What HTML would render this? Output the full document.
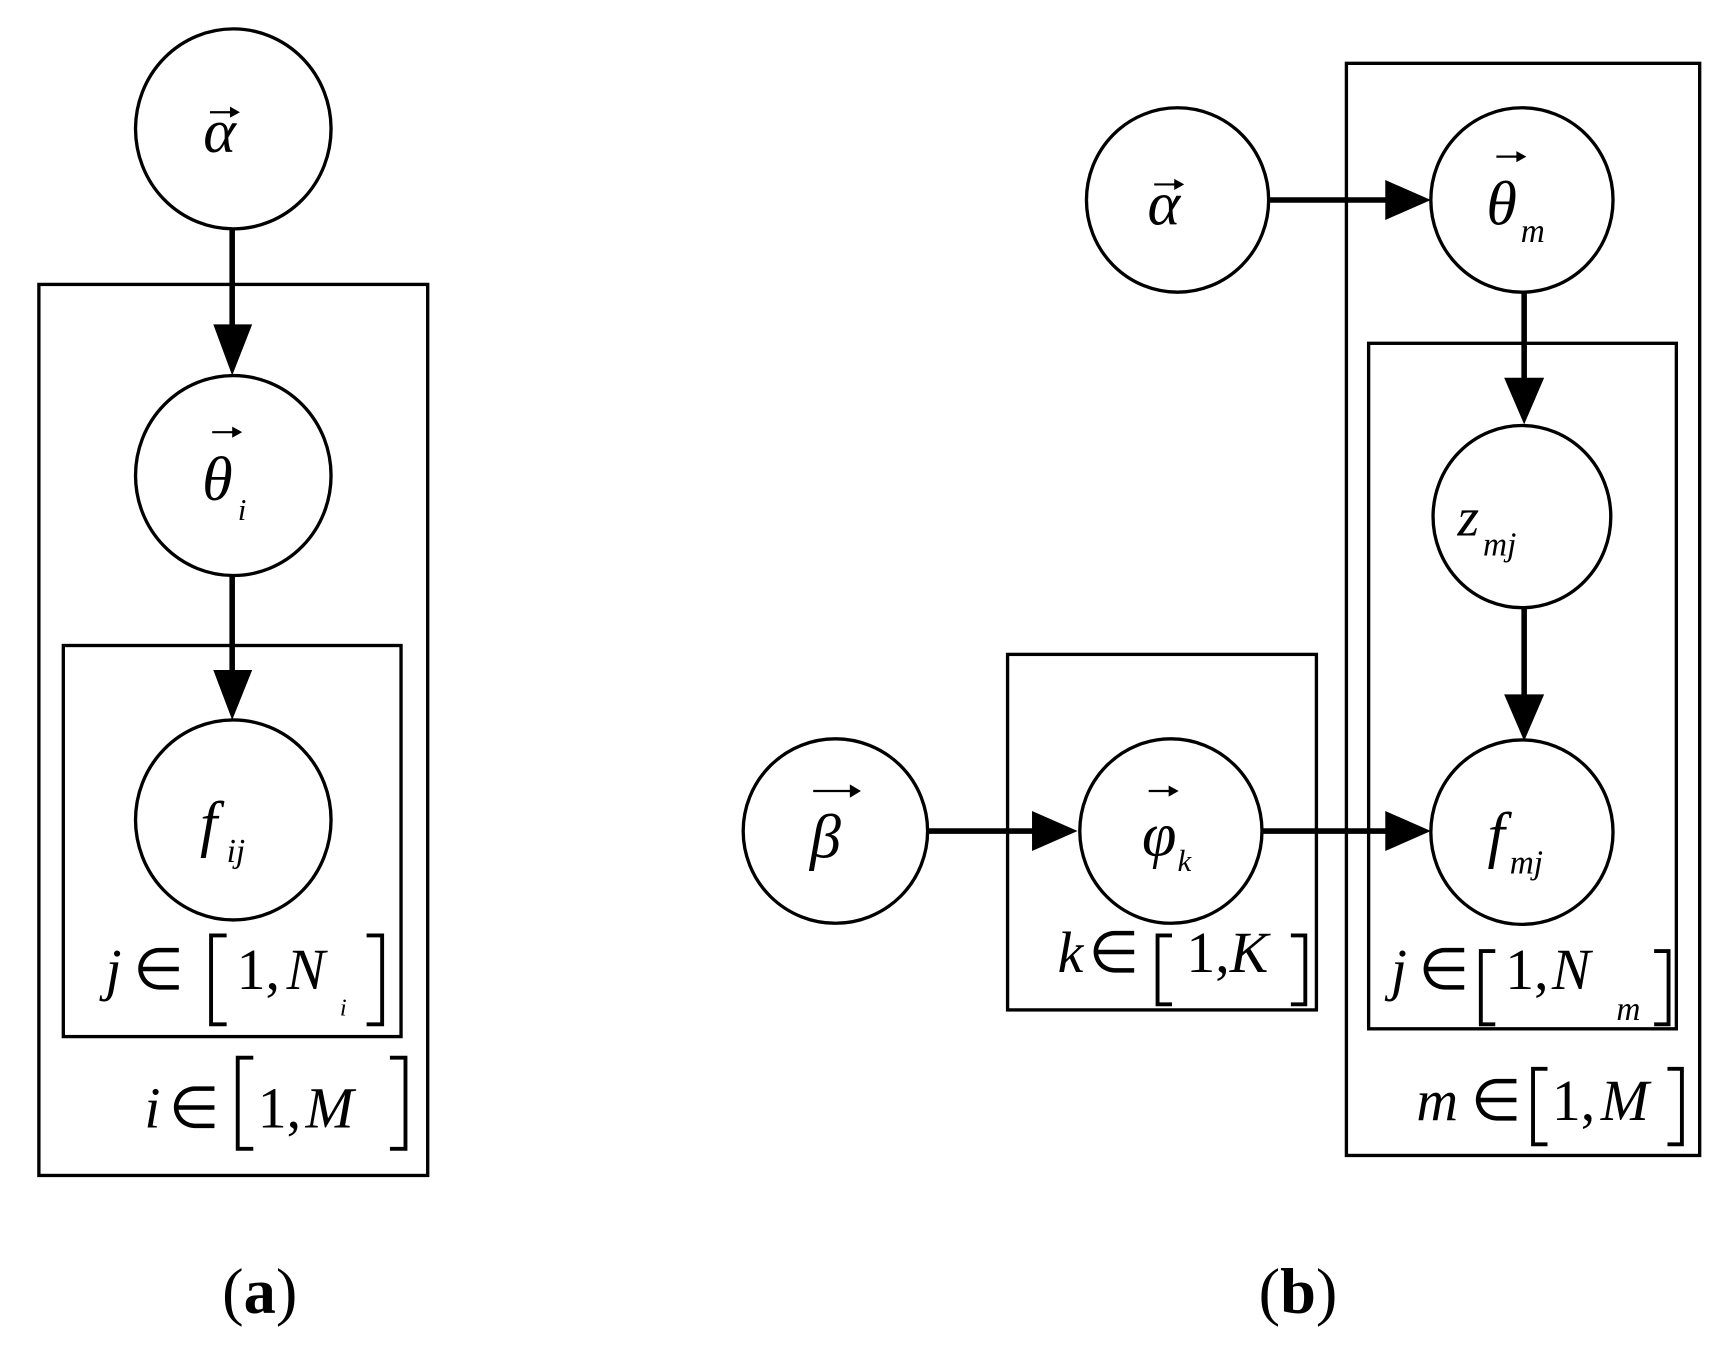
<!DOCTYPE html>
<html><head><meta charset="utf-8"><style>
html,body{margin:0;padding:0;background:#fff;}
svg{display:block;}
text{font-family:"Liberation Serif",serif;fill:#000;}
.it{font-style:italic;}
</style></head><body>
<svg width="1733" height="1351" viewBox="0 0 1560 1216" preserveAspectRatio="none" xmlns="http://www.w3.org/2000/svg">
<g fill="none" stroke="#000" stroke-width="3">
<rect x="35" y="256" width="350" height="802"/>
<rect x="57" y="581" width="304" height="352"/>
<ellipse cx="210" cy="116" rx="88" ry="90"/>
<ellipse cx="210" cy="428" rx="88" ry="90"/>
<ellipse cx="210" cy="738" rx="88" ry="90"/>
<rect x="1212" y="57" width="318" height="983"/>
<rect x="1232" y="309" width="277" height="617"/>
<rect x="907" y="589" width="278" height="320"/>
<ellipse cx="1060" cy="180" rx="82" ry="83"/>
<ellipse cx="1370" cy="180" rx="82" ry="83"/>
<ellipse cx="1370" cy="465" rx="80" ry="82"/>
<ellipse cx="1370" cy="749" rx="82" ry="83"/>
<ellipse cx="752" cy="748" rx="83" ry="83"/>
<ellipse cx="1054" cy="748" rx="82" ry="83"/>
</g>
<g stroke="#000" stroke-width="5" fill="none">
<line x1="209" y1="206" x2="209" y2="295"/>
<line x1="209" y1="518" x2="209" y2="605"/>
<line x1="1142" y1="180" x2="1249" y2="180"/>
<line x1="1372" y1="263" x2="1372" y2="342"/>
<line x1="1372" y1="548" x2="1372" y2="627"/>
<line x1="835" y1="748" x2="931" y2="748"/>
<line x1="1137" y1="748" x2="1249" y2="748"/>
</g>
<g fill="#000">
<polygon points="192,292 227,292 209,338"/>
<polygon points="192,603 227,603 209,648"/>
<polygon points="1247,162 1247,198 1288,180"/>
<polygon points="1354,340 1390,340 1372,382"/>
<polygon points="1354,625 1390,625 1372,667"/>
<polygon points="929,730 929,766 970,748"/>
<polygon points="1247,730 1247,766 1288,748"/>
</g>
<g stroke="#000" stroke-width="2" fill="#000">
<line x1="189" y1="101" x2="210" y2="101"/><polygon points="207,96 216,101 207,106" stroke="none"/>
<line x1="191" y1="389" x2="212" y2="389"/><polygon points="209,384 218,389 209,394" stroke="none"/>
<line x1="1039" y1="166" x2="1060" y2="166"/><polygon points="1057,161 1066,166 1057,171" stroke="none"/>
<line x1="1347" y1="141" x2="1368" y2="141"/><polygon points="1365,136 1374,141 1365,146" stroke="none"/>
<line x1="1034" y1="712" x2="1055" y2="712"/><polygon points="1052,707 1061,712 1052,717" stroke="none"/>
<line x1="732" y1="712" x2="769" y2="712"/><polygon points="765,706 775,712 765,718" stroke="none"/>
</g>
<g font-size="56">
<text x="183" y="137" class="it">α</text>
<text x="182" y="450" class="it">θ</text>
<text x="214" y="468" font-size="28" class="it">i</text>
<text x="180" y="760" class="it">f</text>
<text x="204" y="776" font-size="30" class="it">ij</text>
<text x="1033" y="202" class="it">α</text>
<text x="1338" y="202" class="it">θ</text>
<text x="1369" y="218" font-size="30" class="it">m</text>
<text x="1312" y="482" font-size="50" class="it">z</text>
<text x="1335" y="500" font-size="30" class="it">mj</text>
<text x="1339" y="770" class="it">f</text>
<text x="1359" y="786" font-size="30" class="it">mj</text>
<text x="729" y="772" class="it">β</text>
<text x="1028" y="770" class="it">φ</text>
<text x="1060" y="784" font-size="28" class="it">k</text>
</g>
<g font-size="52">
<text x="95" y="890" class="it">j</text><text x="120" y="890">∈</text>
<text x="213" y="890">1,</text><text x="258" y="890" class="it">N</text>
<text x="306" y="914" font-size="22" class="it">i</text>

<text x="130" y="1015" class="it">i</text><text x="152" y="1015">∈</text>
<text x="232" y="1015">1,</text><text x="275" y="1015" class="it">M</text>

<text x="952" y="875" class="it">k</text><text x="980" y="875">∈</text>
<text x="1068" y="875">1,</text><text x="1107" y="875" class="it">K</text>

<text x="1252" y="890" class="it">j</text><text x="1277" y="890">∈</text>
<text x="1355" y="890">1,</text><text x="1397" y="890" class="it">N</text>
<text x="1455" y="918" font-size="30" class="it">m</text>

<text x="1275" y="1008" class="it">m</text><text x="1324" y="1008">∈</text>
<text x="1397" y="1008">1,</text><text x="1441" y="1008" class="it">M</text>
</g>
<g stroke="#000" stroke-width="3.5" fill="none">
<path d="M204,842 H190 V922 H204"/><path d="M330,842 H344 V922 H330"/>
<path d="M228,952 H214 V1034 H228"/><path d="M351,952 H365 V1034 H351"/>
<path d="M1055,842 H1042 V904 H1055"/><path d="M1162,842 H1175 V904 H1162"/>
<path d="M1346,856 H1333 V922 H1346"/><path d="M1489,856 H1502 V922 H1489"/>
<path d="M1393,962 H1380 V1030 H1393"/><path d="M1501,962 H1514 V1030 H1501"/>
</g>
<text x="200" y="1182" font-size="58">(<tspan font-weight="bold">a</tspan>)</text>
<text x="1133" y="1182" font-size="58">(<tspan font-weight="bold">b</tspan>)</text>
</svg>
</body></html>
